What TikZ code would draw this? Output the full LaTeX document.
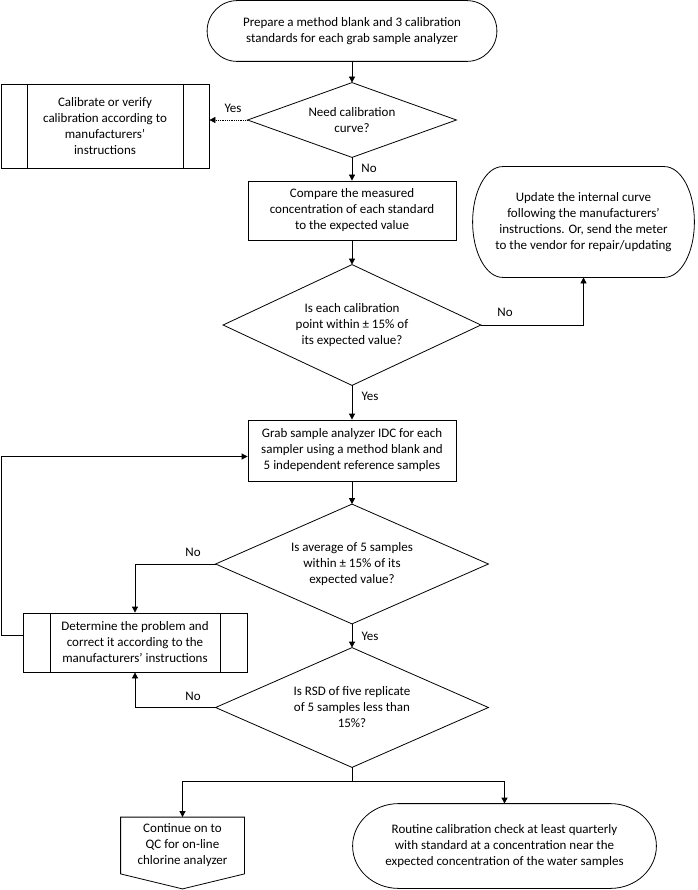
\documentclass[tikz,border=0pt]{standalone}
\usepackage{fontspec}
\setmainfont{Carlito}
\usetikzlibrary{arrows.meta,calc}

\tikzset{
  proc/.style={draw, rectangle, align=center, inner sep=0pt},
  subproc/.style={proc, path picture={
      \draw ([xshift=#1]path picture bounding box.north west) -- ([xshift=#1]path picture bounding box.south west)
            ([xshift=-#1]path picture bounding box.north east) -- ([xshift=-#1]path picture bounding box.south east);}},
  subproc/.default=26pt,
  term/.style={rectangle, align=center, inner sep=0pt},
  decision/.style={term},
  flow/.style={-{Triangle[length=6pt,width=6pt]}},
  lbl/.style={inner sep=0pt}
}

% outline of a terminator: #1 node name, #2 radius of the round ends
\newcommand\termshape[2]{%
  \draw let \p1=(#1.north), \p2=(#1.south), \n1={(\y1-\y2)/2} in
    ([xshift=#2]#1.north west) -- ([xshift=-#2]#1.north east)
    arc[start angle=90, end angle=-90, x radius=#2, y radius=\n1]
    -- ([xshift=#2]#1.south west)
    arc[start angle=270, end angle=90, x radius=#2, y radius=\n1] -- cycle;}
% outline of a decision
\newcommand\decshape[1]{%
  \draw (#1.north) -- (#1.east) -- (#1.south) -- (#1.west) -- cycle;}

\begin{document}
\begin{tikzpicture}[x=1pt,y=1pt,line width=0.8pt,font=\fontsize{13}{16}\selectfont]
  \useasboundingbox (0,0) rectangle (697,-890);

  % main column
  \node[term, minimum width=289pt, minimum height=60pt] (prep) at (352,-31)
    {Prepare a method blank and 3 calibration\\standards for each grab sample analyzer};
  \termshape{prep}{30pt}
  \node[decision, minimum width=208pt, minimum height=74pt] (needcal) at (352,-120)
    {Need calibration\\curve?};
  \decshape{needcal}
  \node[subproc, minimum width=208pt, minimum height=84pt] (calib) at (105,-126)
    {Calibrate or verify\\calibration according to\\manufacturers’\\instructions};
  \node[proc, minimum width=208pt, minimum height=59pt] (compare) at (352,-210.5)
    {Compare the measured\\concentration of each standard\\to the expected value};
  \node[term, minimum width=221pt, minimum height=110pt] (update) at (583.5,-222)
    {Update the internal curve\\following the manufacturers’\\instructions. Or, send the meter\\to the vendor for repair/updating};
  \termshape{update}{30pt}
  \node[decision, minimum width=257pt, minimum height=120pt] (within) at (352,-325)
    {Is each calibration\\point within ± 15\% of\\its expected value?};
  \decshape{within}
  \node[proc, minimum width=208pt, minimum height=61pt] (grab) at (352,-450.5)
    {Grab sample analyzer IDC for each\\sampler using a method blank and\\5 independent reference samples};
  \node[decision, minimum width=272pt, minimum height=119pt] (avg) at (352,-564)
    {Is average of 5 samples\\within ± 15\% of its\\expected value?};
  \decshape{avg}
  \node[subproc=27pt, minimum width=224pt, minimum height=59pt] (fix) at (135,-642.5)
    {Determine the problem and\\correct it according to the\\manufacturers’ instructions};
  \node[decision, minimum width=272pt, minimum height=119pt] (rsd) at (352,-707.5)
    {Is RSD of five replicate\\of 5 samples less than\\15\%?};
  \decshape{rsd}
  \node[term, minimum width=123pt, minimum height=56pt] (cont) at (182.5,-845.5)
    {Continue on to\\QC for on-line\\chlorine analyzer};
  \draw (cont.north west) -- (cont.north east) -- (cont.south east)
    -- ([yshift=-15pt]cont.south) -- (cont.south west) -- cycle;
  \node[term, minimum width=303pt, minimum height=84pt] (routine) at (504.5,-846)
    {Routine calibration check at least quarterly\\with standard at a concentration near the\\expected concentration of the water samples};
  \termshape{routine}{46pt}

  % labels
  \node[lbl] (yes1) at (233,-108) {Yes};
  \node[lbl] (no1) at (369,-168) {No};
  \node[lbl] (no2) at (505,-312) {No};
  \node[lbl] (yes2) at (370,-396) {Yes};
  \node[lbl] (no3) at (193,-552) {No};
  \node[lbl] (yes3) at (370,-636) {Yes};
  \node[lbl] (no4) at (193,-696) {No};

  % connectors
  \draw[flow] (prep) -- (needcal);
  \draw[flow, densely dotted] (needcal.west) -- (needcal.west -| calib.east);
  \draw[flow] (needcal) -- (compare);
  \draw[flow] (compare) -- (within);
  \draw[flow] (within.east) -| (update.south);
  \draw[flow] (within) -- (grab);
  \coordinate (back) at (1,-635);
  \draw[flow] (back -| fix.west) -- (back) |- ([yshift=-6pt]grab.west);
  \draw[flow] (grab) -- (avg);
  \draw[flow] (avg.west) -| (fix.north);
  \draw[flow] (avg) -- (rsd);
  \draw[flow] (rsd.west) -| (fix.south);
  \coordinate (split) at (352,-781);
  \draw (rsd.south) -- (split);
  \draw[flow] (split) -| (cont.north);
  \draw[flow] (split) -| (routine.north);
\end{tikzpicture}
\end{document}
